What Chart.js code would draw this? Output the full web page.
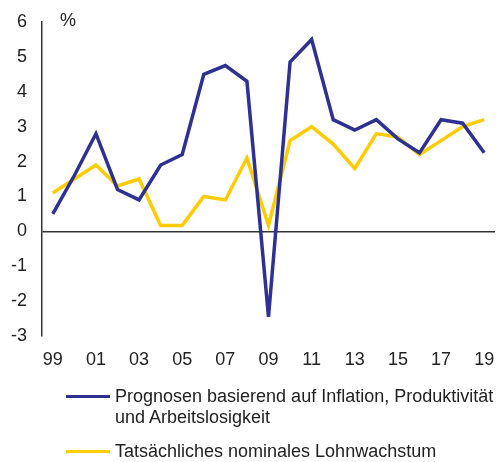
<!DOCTYPE html>
<html>
<head>
<meta charset="utf-8">
<script src="https://cdn.jsdelivr.net/npm/chart.js@4.4.0/dist/chart.umd.min.js"></script>
<style>
    body { margin: 0; background: #fff; }
    #wrap { position: relative; width: 497px; height: 462px; font-family: "Liberation Sans", Arial, sans-serif; color: #222; }
    #chart { position: absolute; left: 0; top: 0; }
    .legend-item { position: absolute; left: 66px; font-size: 18px; line-height: 21px; }
    .legend-line { position: absolute; left: 0; width: 44px; height: 3px; }
    .legend-text { position: absolute; left: 49px; width: 420px; }
</style>
</head>
<body>
<div id="wrap">
    <canvas id="chart" width="497" height="462"></canvas>
    <div id="legend"></div>
</div>
<script>
// Data
const years = ['99', '00', '01', '02', '03', '04', '05', '06', '07', '08', '09',
               '10', '11', '12', '13', '14', '15', '16', '17', '18', '19'];
const forecast = [0.5, 1.6, 2.8, 1.2, 0.9, 1.9, 2.2, 4.5, 4.75, 4.3, -2.45,
                  4.85, 5.5, 3.2, 2.9, 3.2, 2.65, 2.25, 3.2, 3.1, 2.25];
const wageGrowth = [1.1, 1.5, 1.9, 1.3, 1.5, 0.17, 0.17, 1.0, 0.9, 2.1, 0.17,
                    2.6, 3.0, 2.5, 1.8, 2.8, 2.7, 2.2, 2.6, 3.0, 3.2];
const seriesLabels = ['Prognosen basierend auf Inflation, Produktivität<br>und Arbeitslosigkeit',
                      'Tatsächliches nominales Lohnwachstum'];
const seriesColors = ['#2e3192', '#ffcc00'];

const FONT = '"Liberation Sans", Arial, sans-serif';

// "%" unit label next to the axis
const unitLabel = {
    id: 'unitLabel',
    afterDraw(chart) {
        const ctx = chart.ctx;
        ctx.save();
        ctx.font = '18px ' + FONT;
        ctx.fillStyle = '#222';
        ctx.textBaseline = 'middle';
        ctx.fillText('%', chart.chartArea.left + 18, chart.chartArea.top - 1);
        ctx.restore();
    }
};

const ctx = document.getElementById('chart').getContext('2d');
new Chart(ctx, {
    type: 'line',
    data: {
        labels: years,
        datasets: [
            {
                label: 'forecast',
                data: forecast,
                borderColor: seriesColors[0],
                borderWidth: 3.5,
                pointRadius: 0,
                tension: 0
            },
            {
                label: 'wage',
                data: wageGrowth,
                borderColor: seriesColors[1],
                borderWidth: 3.5,
                pointRadius: 0,
                tension: 0
            }
        ]
    },
    options: {
        responsive: false,
        animation: false,
        layout: { padding: { top: 22, right: 2, bottom: 96, left: 0 } },
        plugins: {
            legend: { display: false },
            tooltip: { enabled: false }
        },
        scales: {
            x: {
                offset: true,
                grid: { display: false, drawTicks: false },
                border: { display: false },
                afterFit(scale) {
                    scale.height = 30;
                    scale.paddingLeft = 0;
                    scale.paddingRight = 0;
                },
                ticks: {
                    autoSkip: false,
                    maxRotation: 0,
                    padding: 13,
                    color: '#222',
                    font: { family: FONT, size: 18 },
                    callback(value, index) { return index % 2 === 0 ? years[index] : ''; }
                }
            },
            y: {
                min: -3,
                max: 6,
                afterFit(scale) {
                    scale.width = 42;
                    scale.paddingTop = 0;
                    scale.paddingBottom = 0;
                },
                grid: {
                    drawTicks: false,
                    lineWidth: 1.5,
                    color: c => c.tick && c.tick.value === 0 ? '#333' : 'rgba(0,0,0,0)'
                },
                border: { display: true, color: '#333', width: 1.5 },
                ticks: {
                    stepSize: 1,
                    padding: 15,
                    color: '#222',
                    font: { family: FONT, size: 18 }
                }
            }
        }
    },
    plugins: [unitLabel]
});

// HTML legend below the plot
const legend = document.getElementById('legend');
const legendTops = [386, 441];
seriesLabels.forEach((text, i) => {
    legend.innerHTML += `
        <div class="legend-item" style="top: ${legendTops[i]}px;">
            <div class="legend-line" style="top: 9px; background: ${seriesColors[i]};"></div>
            <div class="legend-text">${text}</div>
        </div>`;
});
</script>
</body>
</html>
